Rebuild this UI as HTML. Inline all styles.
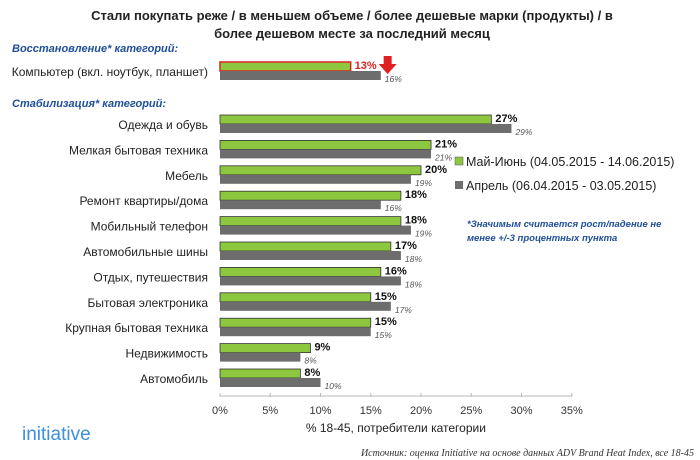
<!DOCTYPE html>
<html><head><meta charset="utf-8"><style>
body{margin:0;background:#fff;}
svg{display:block;font-family:"Liberation Sans","DejaVu Sans",sans-serif;}
</style></head><body>
<svg width="700" height="460" viewBox="0 0 700 460" id="chart">
<text x="352" y="20" text-anchor="middle" font-size="13" font-weight="bold" fill="#222">Стали покупать реже / в меньшем объеме / более дешевые марки (продукты) / в</text>
<text x="352" y="38" text-anchor="middle" font-size="13" font-weight="bold" fill="#222">более дешевом месте за последний месяц</text>
<text x="12" y="52" font-size="11" font-weight="bold" font-style="italic" fill="#1f4e9a">Восстановление* категорий:</text>
<text x="12" y="107" font-size="11" font-weight="bold" font-style="italic" fill="#1f4e9a">Стабилизация* категорий:</text>
<g id="bars"></g>
<g id="axis"></g>
<rect x="455" y="157" width="8" height="8" fill="#8dc63f" stroke="#555" stroke-width="0.5"/>
<text x="466" y="166" font-size="12.5" fill="#222">Май-Июнь (04.05.2015 - 14.06.2015)</text>
<rect x="455" y="181" width="8" height="8" fill="#6d6d6d"/>
<text x="466" y="190" font-size="12.5" fill="#222">Апрель (06.04.2015 - 03.05.2015)</text>
<text x="467" y="227" font-size="9.5" font-weight="bold" font-style="italic" fill="#1f4e9a">*Значимым считается рост/падение не</text>
<text x="467" y="241" font-size="9.5" font-weight="bold" font-style="italic" fill="#1f4e9a">менее +/-3 процентных пункта</text>
<text x="22" y="440" font-size="19" fill="#3d8fe0">initiative</text>
<text x="694" y="456" text-anchor="end" font-size="10" font-style="italic" fill="#333" font-family="Liberation Serif,serif">Источник: оценка Initiative  на основе данных ADV Brand Heat Index, все 18-45</text>
</svg>
<script>
const categories=["Компьютер (вкл. ноутбук, планшет)","Одежда и обувь","Мелкая бытовая техника","Мебель","Ремонт квартиры/дома","Мобильный телефон","Автомобильные шины","Отдых, путешествия","Бытовая электроника","Крупная бытовая техника","Недвижимость","Автомобиль"];
const mayJune=[13,27,21,20,18,18,17,16,15,15,9,8];
const april=[16,29,21,19,16,19,18,18,17,15,8,10];
const ticks=[0,5,10,15,20,25,30,35];
const NS="http://www.w3.org/2000/svg";
const x0=220,pxPer=10.05;
function xs(v){return x0+v*pxPer;}
function rowY(i){return i===0?72:125+(i-1)*25.4;}
function mk(tag,attrs,parent,txt){const e=document.createElementNS(NS,tag);for(const k in attrs)e.setAttribute(k,attrs[k]);if(txt!==undefined)e.textContent=txt;parent.appendChild(e);return e;}
const bars=document.getElementById('bars'),axis=document.getElementById('axis');
categories.forEach((c,i)=>{
  const cy=rowY(i);
  const lab=mk('text',{x:208,y:cy+4,'text-anchor':'end','font-size':12,fill:'#222'},bars,c);
  
  
  const g=mk('rect',{x:x0,y:cy-10,width:xs(mayJune[i])-x0,height:9,fill:'#8dc63f',stroke:i===0?'#e02020':'#333','stroke-width':i===0?1.5:0.8},bars);
  
  
  const a=mk('rect',{x:x0,y:cy-1,width:xs(april[i])-x0,height:9,fill:'#6d6d6d'},bars);
  
  
  const gv=mk('text',{x:xs(mayJune[i])+4,y:cy-3,'font-size':11,'font-weight':'bold',fill:i===0?'#e02020':'#111'},bars,mayJune[i]+'%');
  
  
  const av=mk('text',{x:xs(april[i])+4,y:cy+10,'font-size':8.5,'font-style':'italic',fill:'#555'},bars,april[i]+'%');
  
  
  if(i===0){
    const ar=mk('path',{d:`M${xs(mayJune[i])+33} 56 h8 v8 h5 l-9 10 l-9 -10 h5 z`,fill:'#e02020'},bars);
    
    
  }
});
const ax=mk('line',{x1:x0,y1:396,x2:xs(35),y2:396,stroke:'#bbb'},axis);


ticks.forEach(t=>{
  const tk=mk('line',{x1:xs(t),y1:393,x2:xs(t),y2:397,stroke:'#bbb'},axis);
  
  
  const tl=mk('text',{x:xs(t),y:414,'text-anchor':'middle','font-size':11,fill:'#333'},axis,t+'%');
  
  
});
const xt=mk('text',{x:xs(17.5),y:432,'text-anchor':'middle','font-size':12,fill:'#222'},axis,'% 18-45, потребители категории');


</script>
</body></html>
